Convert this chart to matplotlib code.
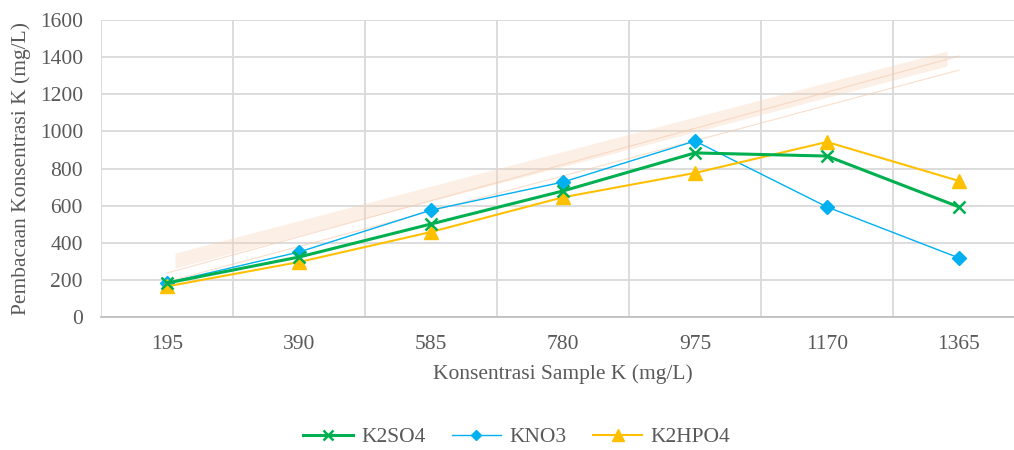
import numpy as np
import matplotlib
matplotlib.use("Agg")
import matplotlib.pyplot as plt

plt.rcParams['font.family'] = ['Liberation Serif', 'DejaVu Serif']

# data
kategori = ['195', '390', '585', '780', '975', '1170', '1365']
k2so4 = [183, 323, 501, 679, 884, 867, 593]
kno3 = [185, 350, 576, 727, 948, 593, 318]
k2hpo4 = [165, 296, 458, 645, 776, 943, 733]

# faint reference lines in the background
band_pos = [0.06, 5.91]
band_lo = [264, 1352]
band_hi = [344, 1433]
ref_pos = [0, 6]
ref_atas = [237, 1406]
ref_bawah = [190, 1330]

abu = '#595959'
grid_c = '#D9D9D9'
fs = 15.5

fig = plt.figure(figsize=(10.14, 4.5), dpi=100)
ax = fig.add_axes([101/1014, 1 - 317/450, 924/1014, 297/450])

x = np.arange(len(kategori))

ax.fill_between(band_pos, band_lo, band_hi, color='#F8D3B8', alpha=0.35, lw=0, zorder=1)
ax.plot(ref_pos, ref_atas, color='#F6C9AA', lw=0.8, alpha=0.6, zorder=1)
ax.plot(ref_pos, ref_bawah, color='#F6C9AA', lw=0.8, alpha=0.6, zorder=1)

ax.plot(x, k2so4, color='#00B050', lw=2.2, marker='x', ms=9, mew=1.8, label='K2SO4', zorder=4)
ax.plot(x, kno3, color='#00B0F0', lw=1.0, marker='D', ms=7, label='KNO3', zorder=3)
ax.plot(x, k2hpo4, color='#FFC000', lw=1.5, marker='^', ms=10, label='K2HPO4', zorder=3)

ax.set_xlim(-0.5, len(kategori) - 0.5)
ax.set_ylim(0, 1600)
ax.set_yticks(np.arange(0, 1601, 200))
ax.set_xticks(x)
ax.set_xticklabels(kategori)

# gridlines between categories like Excel
for b in np.arange(-0.5, len(kategori), 1.0):
    ax.axvline(b, color=grid_c, lw=1.3, zorder=0)
ax.yaxis.grid(True, color=grid_c, lw=1.3, zorder=0)
ax.set_axisbelow(True)

for s in ['top', 'right', 'left']:
    ax.spines[s].set_visible(False)
ax.spines['bottom'].set_color('#BFBFBF')
ax.spines['bottom'].set_linewidth(1.3)

ax.tick_params(axis='both', length=0, labelsize=fs, colors=abu)
ax.tick_params(axis='x', pad=13)
ax.tick_params(axis='y', pad=13)

ax.set_xlabel('Konsentrasi Sample K (mg/L)', fontsize=fs, color=abu, labelpad=7)
ax.set_ylabel('Pembacaan Konsentrasi K (mg/L)', fontsize=fs, color=abu, labelpad=6)

fig.legend(loc='center', bbox_to_anchor=(517/1014, 1 - 437/450), ncol=3, frameon=False,
           fontsize=fs, labelcolor=abu, handlelength=2.3, columnspacing=1.2, handletextpad=0.4,
           markerscale=0.8)

fig.savefig('out.png', dpi=100)
